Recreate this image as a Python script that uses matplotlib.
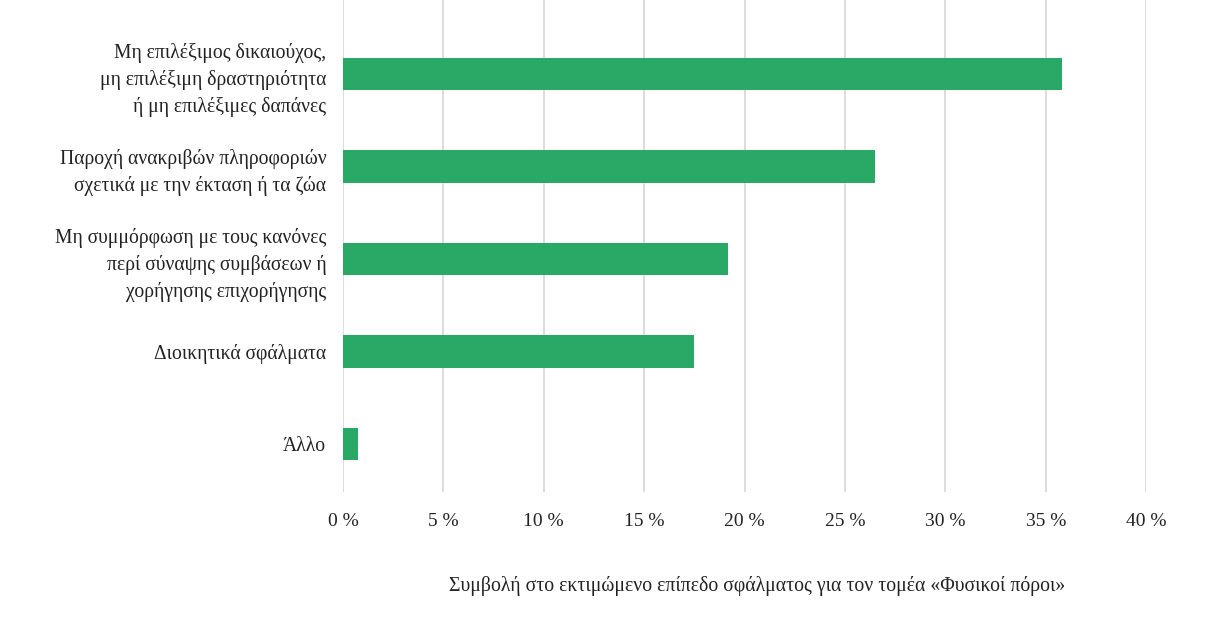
import matplotlib.pyplot as plt

# Κατηγορίες και τιμές (%)
categories = [
    'Μη επιλέξιμος δικαιούχος,\nμη επιλέξιμη δραστηριότητα\nή μη επιλέξιμες δαπάνες',
    'Παροχή ανακριβών πληροφοριών\nσχετικά με την έκταση ή τα ζώα',
    'Μη συμμόρφωση με τους κανόνες\nπερί σύναψης συμβάσεων ή\nχορήγησης επιχορήγησης',
    'Διοικητικά σφάλματα',
    'Άλλο',
]
values = [35.8, 26.5, 19.2, 17.5, 0.75]
xticks = [0, 5, 10, 15, 20, 25, 30, 35, 40]
xlabel = 'Συμβολή στο εκτιμώμενο επίπεδο σφάλματος για τον τομέα «Φυσικοί πόροι»'

plt.rcParams['font.family'] = ['Liberation Serif', 'DejaVu Serif']

fig = plt.figure(figsize=(12.09, 6.3), dpi=100)
ax = fig.add_axes([0.2837, 0.219, 0.6643, 0.781])

pos = range(len(categories))
ax.barh(pos, values, height=0.35, color='#2aa966', zorder=3)

ax.set_xlim(0, 40)
ax.set_ylim(4.52, -0.8)
ax.set_xticks(xticks)
ax.set_xticklabels([f'{t} %' for t in xticks], fontsize=14, color='#222222')
ax.set_yticks(list(pos))
ax.set_yticklabels(categories, fontsize=14.1, color='#222222', linespacing=1.45)

ax.grid(axis='x', color='#d9d9d9', linewidth=1.3, zorder=0)
for s in ax.spines.values():
    s.set_visible(False)
ax.tick_params(axis='both', length=0)
ax.tick_params(axis='x', pad=15)
ax.tick_params(axis='y', pad=12)

ax.set_xlabel(xlabel, fontsize=14.2, color='#222222')
ax.xaxis.set_label_coords(0.516, -0.17)

fig.savefig('out.png', dpi=100)
